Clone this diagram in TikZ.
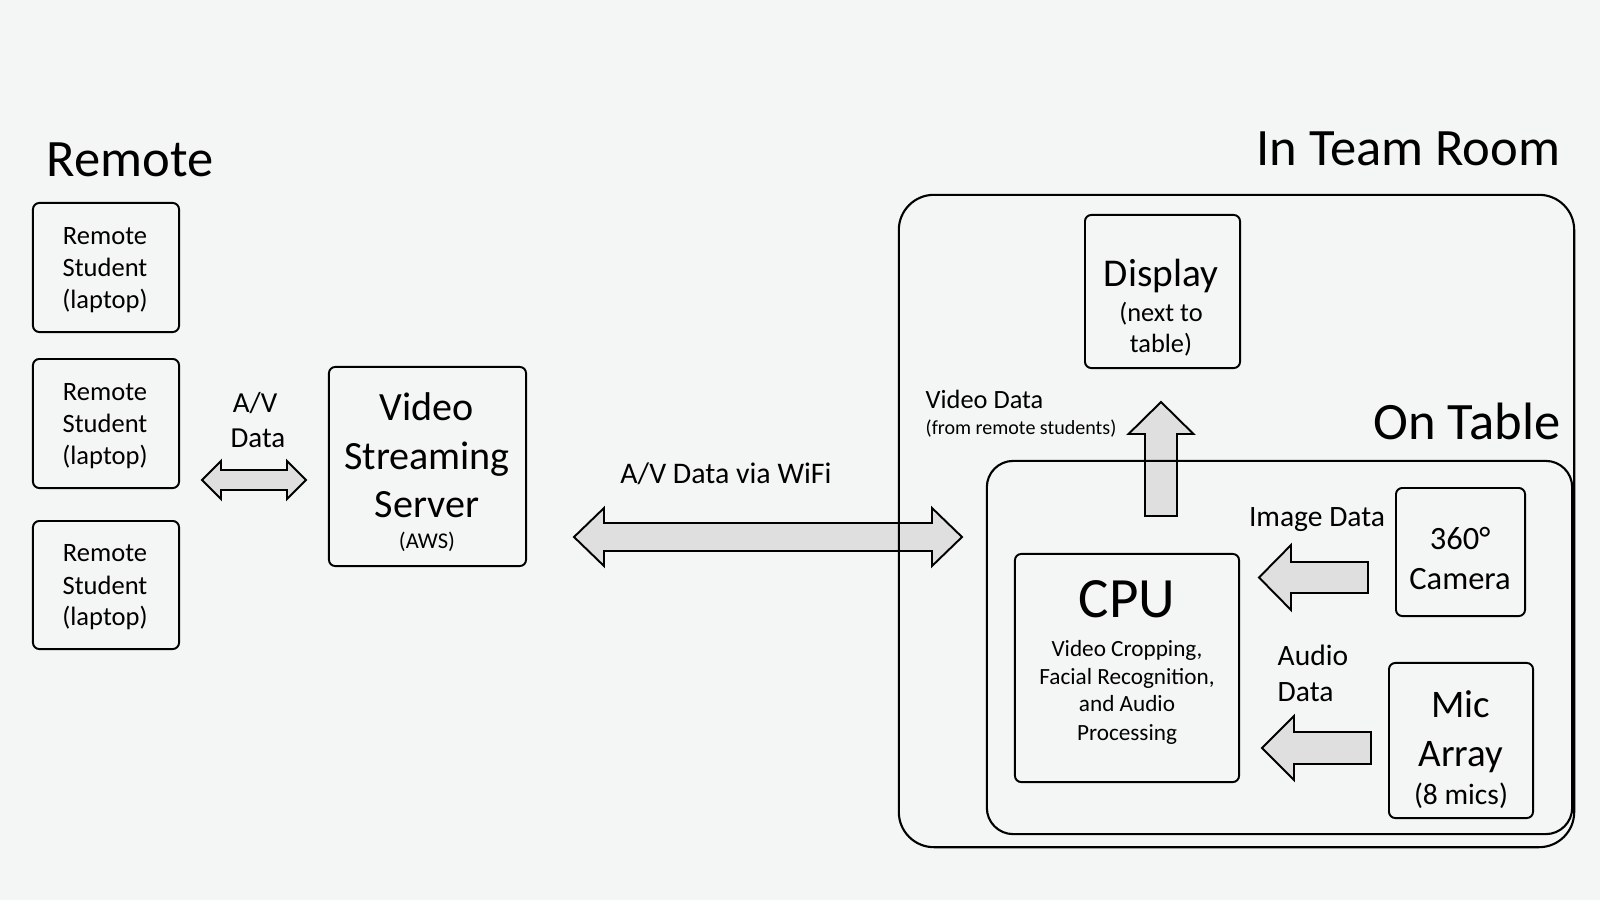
\documentclass[tikz,border=0pt]{standalone}
\usepackage{fontspec}
\setmainfont{Carlito}
\definecolor{bg}{HTML}{F4F6F5}
\definecolor{arrowfill}{HTML}{DFDFDF}
\newcommand\fsz[1]{\fontsize{#1pt}{#1pt}\selectfont}
\tikzset{
  box/.style={draw=black, line width=0.55pt, rounded corners=1.8pt, inner sep=0pt},
  bigbox/.style={draw=black, line width=0.6pt, rounded corners=10pt, inner sep=0pt},
  tablebox/.style={draw=black, line width=0.6pt, rounded corners=7.5pt, inner sep=0pt},
  blockarrow/.style={draw=black, fill=arrowfill, line width=0.55pt, line join=miter},
  txt/.style={inner sep=0pt, anchor=base},
  ltxt/.style={inner sep=0pt, anchor=base west},
  rtxt/.style={inner sep=0pt, anchor=base east},
}
\begin{document}
\begin{tikzpicture}[x=0.01cm, y=-0.01cm]
\fill[bg] (0,0) rectangle (1600,900);
\useasboundingbox (0,0) rectangle (1600,900);

% ---- block arrows (drawn first, box lines go over them)
% small double arrow
\filldraw[blockarrow] (202,480) -- (221,461) -- (221,470) -- (287,470) -- (287,461) -- (306,480)
  -- (287,499) -- (287,490) -- (221,490) -- (221,499) -- cycle;
% big double arrow
\filldraw[blockarrow] (574,537) -- (604,508) -- (604,523) -- (932,523) -- (932,508) -- (962,537)
  -- (932,566) -- (932,551) -- (604,551) -- (604,566) -- cycle;
% up arrow
\filldraw[blockarrow] (1161,402) -- (1193.5,434) -- (1177,434) -- (1177,516) -- (1145,516)
  -- (1145,434) -- (1128.5,434) -- cycle;
% image data arrow
\filldraw[blockarrow] (1259,577.5) -- (1291,545) -- (1291,562) -- (1368,562) -- (1368,593)
  -- (1291,593) -- (1291,610) -- cycle;
% audio data arrow
\filldraw[blockarrow] (1262,748) -- (1294,716) -- (1294,732) -- (1371,732) -- (1371,764)
  -- (1294,764) -- (1294,780) -- cycle;

% ---- boxes
\node[bigbox, minimum width=6.75cm, minimum height=6.52cm] (room) at (1236.5,521) {};
\node[tablebox, minimum width=5.85cm, minimum height=3.73cm] (table) at (1279.5,647.5) {};
\node[box, minimum width=1.46cm, minimum height=1.29cm] (s1) at (106,267.5) {};
\node[box, minimum width=1.46cm, minimum height=1.29cm] (s2) at (106,423.5) {};
\node[box, minimum width=1.46cm, minimum height=1.28cm] (s3) at (106,585) {};
\node[box, minimum width=1.97cm, minimum height=1.99cm] (server) at (427.5,466.5) {};
\node[box, minimum width=1.55cm, minimum height=1.53cm] (display) at (1162.5,291.5) {};
\node[box, minimum width=2.24cm, minimum height=2.28cm] (cpu) at (1127,668) {};
\node[box, minimum width=1.29cm, minimum height=1.28cm] (cam) at (1460.5,552) {};
\node[box, minimum width=1.44cm, minimum height=1.55cm] (mic) at (1461,740.5) {};

% ---- titles
\node[ltxt, font=\fsz{14.95}] (tremote) at (46,176) {Remote};
\node[rtxt, font=\fsz{14.95}] (troom) at (1561,165) {In Team Room};
\node[rtxt, font=\fsz{14.95}] (ttable) at (1561,439) {On Table};

% ---- remote students
\node[txt, font=\fsz{7.54}] (s1a) at (105,244.5) {Remote};
\node[txt, font=\fsz{7.54}] (s1b) at (105,276.5) {Student};
\node[txt, font=\fsz{7.54}] (s1c) at (105,308.5) {(laptop)};
\node[txt, font=\fsz{7.54}] (s2a) at (105,400.5) {Remote};
\node[txt, font=\fsz{7.54}] (s2b) at (105,432) {Student};
\node[txt, font=\fsz{7.54}] (s2c) at (105,464.5) {(laptop)};
\node[txt, font=\fsz{7.54}] (s3a) at (105,561.5) {Remote};
\node[txt, font=\fsz{7.54}] (s3b) at (105,594.5) {Student};
\node[txt, font=\fsz{7.54}] (s3c) at (105,625.5) {(laptop)};

% ---- A/V data labels
\node[txt, font=\fsz{8.25}] (av1) at (255,412) {A/V};
\node[txt, font=\fsz{8.25}] (av2) at (258,447) {Data};
\node[txt, font=\fsz{8.5}] (wifi) at (726,483) {A/V Data via WiFi};

% ---- server
\node[txt, font=\fsz{11.4}] (srv1) at (427,420) {Video};
\node[txt, font=\fsz{11.4}] (srv2) at (427,469) {Streaming};
\node[txt, font=\fsz{11.4}] (srv3) at (427,517) {Server};
\node[txt, font=\fsz{6.4}] (srv4) at (427,548) {(AWS)};

% ---- display
\node[txt, font=\fsz{11.2}] (d1) at (1161,286) {Display};
\node[txt, font=\fsz{7.5}] (d2) at (1161,321) {(next to};
\node[txt, font=\fsz{7.5}] (d3) at (1161,352) {table)};

% ---- video data label
\node[ltxt, font=\fsz{7.5}] (vd1) at (925,408.5) {Video Data};
\node[ltxt, font=\fsz{5.7}] (vd2) at (925,434) {(from remote students)};

% ---- CPU
\node[txt, font=\fsz{16.2}] (c0) at (1127,617) {CPU};
\node[txt, font=\fsz{6.6}] (c1) at (1127,656.5) {Video Cropping,};
\node[txt, font=\fsz{6.6}] (c2) at (1127,684.5) {Facial Recognition,};
\node[txt, font=\fsz{6.6}] (c3) at (1127,711.5) {and Audio};
\node[txt, font=\fsz{6.6}] (c4) at (1127,740.5) {Processing};

% ---- camera
\node[txt, font=\fsz{9.25}] (cam1) at (1460,549.5) {360°};
\node[txt, font=\fsz{9.25}] (cam2) at (1460,589.5) {Camera};

% ---- mic
\node[txt, font=\fsz{11.1}] (mic1) at (1461,717.5) {Mic};
\node[txt, font=\fsz{11.1}] (mic2) at (1461,766.5) {Array};
\node[txt, font=\fsz{8.4}] (mic3) at (1461,804.5) {(8 mics)};

% ---- image/audio labels
\node[txt, font=\fsz{8.4}] (img) at (1317,526.5) {Image Data};
\node[ltxt, font=\fsz{8.4}] (au1) at (1277,665.5) {Audio};
\node[ltxt, font=\fsz{8.4}] (au2) at (1277,701.5) {Data};
\end{tikzpicture}
\end{document}
